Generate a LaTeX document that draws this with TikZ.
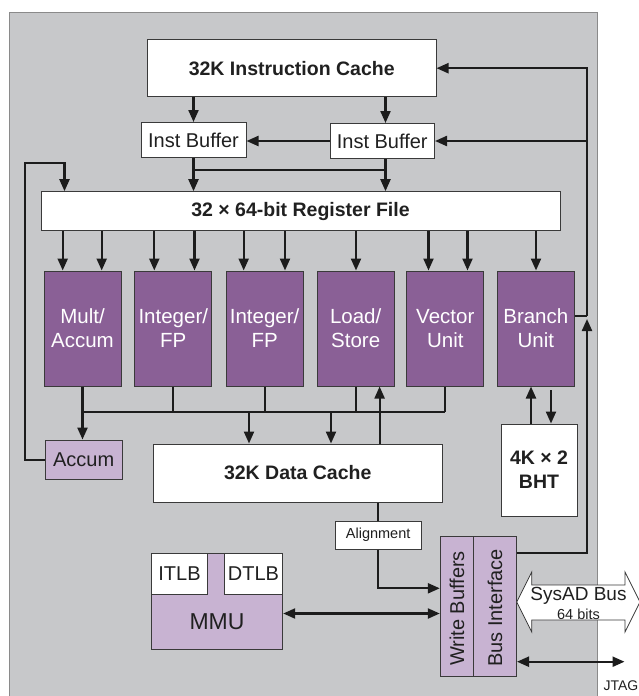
\documentclass[tikz,border=0pt]{standalone}
\usepackage{fontspec}
\setmainfont{Liberation Sans}
\usetikzlibrary{arrows.meta}
\definecolor{bggray}{HTML}{C7C8CA}
\definecolor{bgedge}{HTML}{8A8A8A}
\definecolor{unitpurple}{HTML}{8A6096}
\definecolor{lightpurple}{HTML}{C8B3D2}
\definecolor{edgegray}{HTML}{3A3A3A}
\definecolor{linegray}{HTML}{1C1C1C}
\definecolor{textgray}{HTML}{202020}
\begin{document}
\begin{tikzpicture}[x=1pt,y=-1pt,
  tt/.style={font=\fontsize{20}{24}\selectfont,text=textgray},
  tb/.style={font=\bfseries\fontsize{19.5}{24}\selectfont,text=textgray},
  ts/.style={font=\fontsize{14.5}{17}\selectfont,text=textgray},
  box/.style={draw=edgegray,line width=1pt,fill=white,inner sep=0pt,align=center},
  lbox/.style={draw=edgegray,line width=1pt,fill=lightpurple,inner sep=0pt,align=center},
  unit/.style={draw=edgegray,line width=1pt,fill=unitpurple,text=white,inner sep=0pt,
    minimum width=77pt,minimum height=115pt,align=center,font=\fontsize{20.5}{24}\selectfont},
  conn/.style={draw=linegray,line width=2.2pt},
  arr/.style={conn,-{Triangle[length=12pt,width=10pt]}},
  darr/.style={conn,{Triangle[length=12pt,width=10pt]}-{Triangle[length=12pt,width=10pt]}}]
\useasboundingbox (0,0) rectangle (638,696);
% background panel
\fill[bggray] (9,12) rectangle (597,700);
\draw[bgedge,line width=1pt] (9,700) -- (9,12) -- (597,12) -- (597,700);

% nodes
\node[box,tb,minimum width=288.5pt,minimum height=57pt] (icache) at (291.75,68.2) {32K Instruction Cache};
\node[box,tt,minimum width=105pt,minimum height=35pt] (ib1) at (193.5,140) {Inst Buffer};
\node[box,tt,minimum width=104.5pt,minimum height=35pt] (ib2) at (382.25,141) {Inst Buffer};
\node[box,tb,minimum width=519pt,minimum height=39pt] (reg) at (300.5,211.2) {32 × 64-bit Register File};

\node[unit] (mult) at (82.5,328.5) {Mult/\\Accum};
\node[unit] (int1) at (173.3,328.5) {Integer/\\FP};
\node[unit] (int2) at (264.6,328.5) {Integer/\\FP};
\node[unit] (ls) at (355.7,328.5) {Load/\\Store};
\node[unit] (vec) at (445.3,328.5) {Vector\\Unit};
\node[unit] (br) at (535.8,328.5) {Branch\\Unit};

\node[lbox,tt,minimum width=77.4pt,minimum height=39.3pt] (accum) at (83.7,459.7) {Accum};
\node[box,tb,minimum width=288.5pt,minimum height=58pt] (dcache) at (297.75,473) {32K Data Cache};
\node[box,tb,minimum width=76pt,minimum height=92pt] (bht) at (539,470) {4K × 2\\BHT};
\node[box,ts,minimum width=85.7pt,minimum height=28.3pt] (align) at (378.15,535.15) {Alignment};

\node[lbox,minimum width=33pt,minimum height=140pt] (wb) at (456.8,606.7) {};
\node[tt,rotate=90] (wbt) at (457,608.5) {Write Buffers};
\node[lbox,minimum width=43.2pt,minimum height=140pt] (bi) at (494.9,606.7) {};
\node[tt,rotate=90] (bit) at (495,608) {Bus Interface};

\node[lbox,minimum width=131.4pt,minimum height=96pt] (mmu) at (217,601.3) {};
\node[font=\fontsize{23}{27}\selectfont,text=textgray] (mmut) at (217,622) {MMU};
\node[box,tt,minimum width=56.4pt,minimum height=40.7pt] (itlb) at (179.5,573.65) {ITLB};
\node[box,tt,minimum width=58.4pt,minimum height=40.7pt] (dtlb) at (253.5,573.65) {DTLB};

% SysAD bus arrow
\draw[fill=white,draw=edgegray,line width=0.8pt] (516.7,602) -- (531.7,572) -- (531.7,585) -- (625,585) -- (625,572) -- (640,602) -- (625,632) -- (625,620) -- (531.7,620) -- (531.7,632) -- cycle;
\node[font=\fontsize{19}{22}\selectfont,text=textgray] (sysad) at (578.5,596) {SysAD Bus};
\node[ts] (bits) at (578.5,614) {64 bits};

% right spine
\coordinate (jn) at (587,316);
\coordinate (spb) at (587,319);
\coordinate (bir) at (516.5,553.3);
\draw[conn] (br.east |- jn) -- (jn);
\draw[arr] (jn) |- (icache.east);
\draw[arr] (jn |- ib2.east) -- (ib2.east);
\draw[arr] (bir) -| (spb);

% instruction cache to buffers
\coordinate (c1) at (193.5,0);
\coordinate (c2) at (385.5,0);
\draw[arr] (c1 |- icache.south) -- (c1 |- ib1.north);
\draw[arr] (c2 |- icache.south) -- (c2 |- ib2.north);
\draw[arr] (ib2.west) -- (ib2.west -| ib1.east);

% buffers to register file
\coordinate (jy) at (0,170);
\draw[arr] (c1 |- ib1.south) -- (c1 |- reg.north);
\draw[arr] (c2 |- ib2.south) -- (c2 |- reg.north);
\draw[conn] (c1 |- jy) -- (c2 |- jy);

% accumulator feedback loop
\coordinate (lx) at (25,163);
\coordinate (lr) at (64.5,163);
\draw[arr] (accum.west) -| (lx) -- (lr) -- (lr |- reg.north);

% register file to units
\foreach \x [count=\i] in {62.7,101.7,154.3,194.5,243.7,285,356,428.5,467.5,536} {
  \coordinate (ra\i) at (\x,0);
  \draw[arr] (ra\i |- reg.south) -- (ra\i |- mult.north);
}

% result bus
\coordinate (by) at (0,412);
\draw[arr] (mult.south) -- (mult.south |- accum.north);
\draw[conn] (mult.south |- by) -- (vec.south |- by);
\foreach \n in {int1,int2,ls,vec} { \draw[conn] (\n.south) -- (\n.south |- by); }
\coordinate (d1) at (249,0);
\coordinate (d2) at (331,0);
\coordinate (d3) at (379.6,0);
\draw[arr] (d1 |- by) -- (d1 |- dcache.north);
\draw[arr] (d2 |- by) -- (d2 |- dcache.north);
\draw[arr] (d3 |- dcache.north) -- (d3 |- ls.south);

% branch history table
\coordinate (h1) at (531,0);
\coordinate (h2) at (551,390);
\draw[arr] (h1 |- bht.north) -- (h1 |- br.south);
\draw[arr] (h2) -- (h2 |- bht.north);

% alignment path
\coordinate (ax) at (378.3,588.3);
\draw[conn] (ax |- dcache.south) -- (ax |- align.north);
\draw[arr] (ax |- align.south) -- (ax) -- (ax -| wb.west);

% MMU to write buffers
\coordinate (my) at (0,613.5);
\draw[darr] (mmu.east |- my) -- (wb.west |- my);

% JTAG
\coordinate (jt) at (624.5,661.7);
\draw[darr] (bi.east |- jt) -- (jt);
\node[font=\fontsize{14}{16}\selectfont,text=textgray] (jtag) at (621,686) {JTAG};
\end{tikzpicture}
\end{document}
